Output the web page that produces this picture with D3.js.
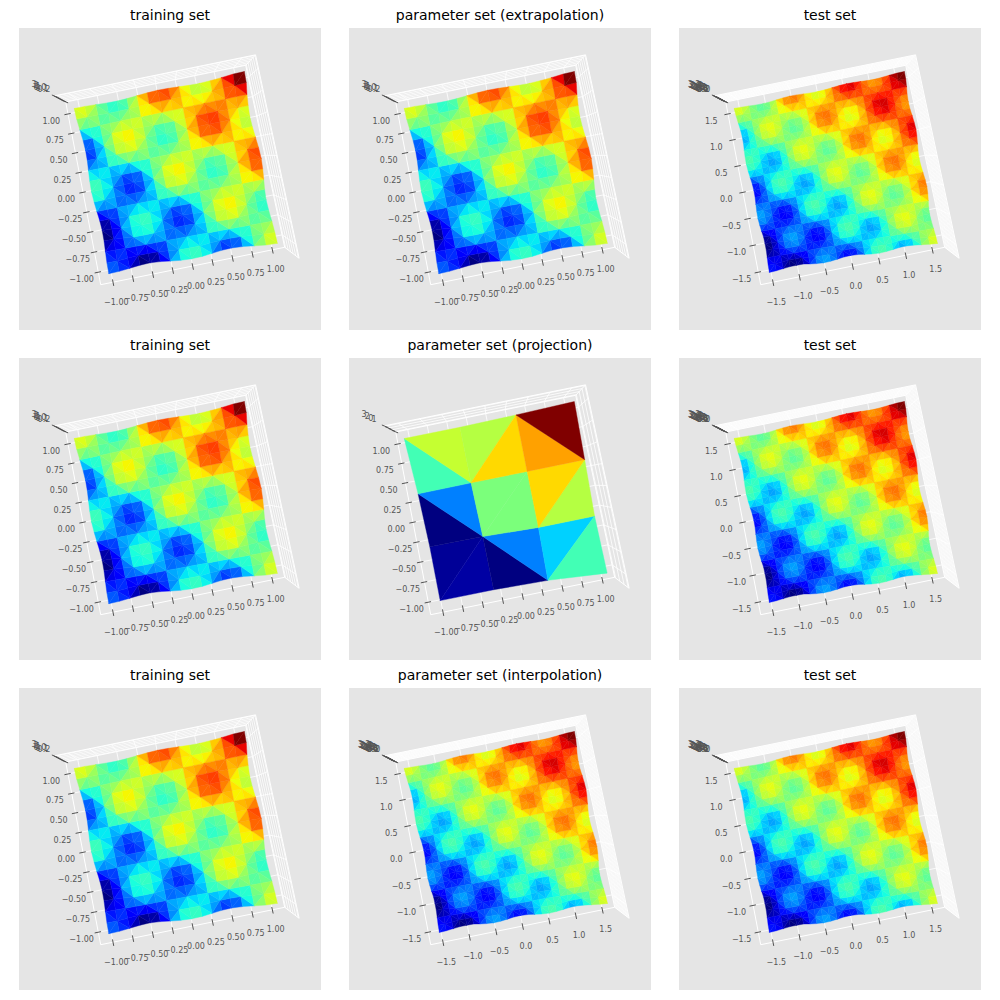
<!DOCTYPE html>
<html><head><meta charset="utf-8">
<script src="https://cdnjs.cloudflare.com/ajax/libs/d3/7.8.5/d3.min.js"></script>
<style>html,body{margin:0;padding:0;background:#fff}svg{display:block}</style>
</head><body><svg id="c" width="1000" height="1000"></svg>
<script>
// surface heights, percent of the colour range, rows from y max to y min
const trainingValues = [
[62,62,53,44,40,48,62,75,83,79,69,59,55,63,76,96,100],
[57,58,50,43,44,48,60,72,75,75,67,59,59,63,75,86,96],
[42,45,47,50,53,56,58,60,62,63,65,67,69,71,73,75,76],
[27,32,45,57,62,63,56,48,48,52,63,75,79,79,71,63,63],
[19,27,42,57,65,62,53,44,40,48,62,75,83,79,69,59,55],
[22,27,39,52,57,57,50,43,44,48,60,72,75,75,67,59,59],
[32,34,37,39,42,45,47,50,53,56,58,60,62,63,65,67,69],
[42,42,34,27,27,32,45,57,62,63,56,48,48,52,63,75,79],
[46,42,32,22,19,27,42,57,65,62,53,44,40,48,62,75,83],
[38,38,30,22,22,27,39,52,57,57,50,43,44,48,60,72,75],
[25,26,28,30,32,34,37,39,42,45,47,50,53,56,58,60,62],
[11,15,26,38,42,42,34,27,27,32,45,57,62,63,56,48,48],
[3,11,25,38,44,42,32,22,19,27,42,57,65,62,53,44,40],
[6,11,23,35,38,38,30,22,22,27,39,52,57,57,50,43,44],
[15,18,21,23,25,26,28,30,32,34,37,39,42,45,47,50,53],
[24,25,18,11,11,15,26,38,42,42,34,27,27,32,45,57,60],
[26,24,15,6,3,11,25,38,44,42,32,22,19,27,42,57,62]];
const testValues = [
[63,61,54,47,45,51,62,73,79,77,69,62,60,66,76,87,93,90,83,75,73,78,89,99,100],
[57,58,52,46,47,50,60,70,73,74,68,61,62,65,75,84,87,88,81,75,75,78,87,97,99],
[45,48,50,52,54,56,58,60,62,64,66,68,69,71,73,75,76,78,80,81,83,84,86,87,89],
[34,37,48,58,61,62,56,50,51,54,64,74,77,77,71,65,66,68,78,88,90,91,84,78,78],
[28,34,45,57,63,61,54,47,45,51,62,73,79,77,69,62,60,66,76,87,93,90,83,75,73],
[29,33,43,53,57,58,52,46,47,50,60,70,73,74,68,61,62,65,75,84,87,88,81,75,75],
[36,38,41,43,45,48,50,52,54,56,58,60,62,64,66,68,69,71,73,75,76,78,80,81,83],
[42,44,38,33,34,37,48,58,61,62,56,50,51,54,64,74,77,77,71,65,66,68,78,88,90],
[44,42,36,29,28,34,45,57,63,61,54,47,45,51,62,73,79,77,69,62,60,66,76,87,93],
[38,39,33,28,29,33,43,53,57,58,52,46,47,50,60,70,73,74,68,61,62,65,75,84,87],
[27,29,31,33,36,38,41,43,45,48,50,52,54,56,58,60,62,64,66,68,69,71,73,75,76],
[16,19,29,39,42,44,38,33,34,37,48,58,61,62,56,50,51,54,64,74,77,77,71,65,66],
[11,16,27,38,44,42,36,29,28,34,45,57,63,61,54,47,45,51,62,73,79,77,69,62,60],
[13,16,25,35,38,39,33,28,29,33,43,53,57,58,52,46,47,50,60,70,73,74,68,61,62],
[20,22,24,25,27,29,31,33,36,38,41,43,45,48,50,52,54,56,58,60,62,64,66,68,69],
[27,28,22,16,16,19,29,39,42,44,38,33,34,37,48,58,61,62,56,50,51,54,64,74,77],
[29,27,20,13,11,16,27,38,44,42,36,29,28,34,45,57,63,61,54,47,45,51,62,73,79],
[23,24,18,12,13,16,25,35,38,39,33,28,29,33,43,53,57,58,52,46,47,50,60,70,73],
[13,14,16,18,20,22,24,25,27,29,31,33,36,38,41,43,45,48,50,52,54,56,58,60,62],
[2,5,14,24,27,28,22,16,16,19,29,39,42,44,38,33,34,37,48,58,61,62,56,50,51],
[0,2,13,23,29,27,20,13,11,16,27,38,44,42,36,29,28,34,45,57,63,61,54,47,45],
[0,1,11,21,23,24,18,12,13,16,25,35,38,39,33,28,29,33,43,53,57,58,52,46,47],
[6,7,9,11,13,14,16,18,20,22,24,25,27,29,31,33,36,38,41,43,45,48,50,52,54],
[13,14,7,1,2,5,14,24,27,28,22,16,16,19,29,39,42,44,38,33,34,37,48,58,61],
[15,13,6,0,0,2,13,23,29,27,20,13,11,16,27,38,44,42,36,29,28,34,45,57,63]];
const coarseValues = [
[62,60,75,100],
[20,62,62,78],
[0,10,55,55],
[0,0,15,60]];
// triangles of the coarse mesh as [col,row] node index triples, with the colour read for each
const coarseFaces = [
[[0,0],[1,0],[1,1]],[[0,0],[1,1],[0,1]],[[1,0],[2,0],[1,1]],[[2,0],[2,1],[1,1]],
[[2,0],[3,0],[3,1]],[[2,0],[3,1],[2,1]],[[0,1],[1,1],[1,2]],[[0,1],[1,2],[0,2]],
[[1,1],[2,1],[1,2]],[[2,1],[2,2],[1,2]],[[2,1],[3,1],[2,2]],[[3,1],[3,2],[2,2]],
[[0,2],[1,2],[0,3]],[[1,2],[1,3],[0,3]],[[1,2],[2,2],[2,3]],[[1,2],[2,3],[1,3]],
[[2,2],[3,2],[2,3]],[[3,2],[3,3],[2,3]]];
const coarseFaceValues = [59,43,57,68,100,74,25,0,50,50,68,57,2,3,25,0,33,43];

const trainingTicks = [-1,-0.75,-0.5,-0.25,0,0.25,0.5,0.75,1];
const testTicks = [-1.5,-1,-0.5,0,0.5,1,1.5];
const trainingZTicks = [0,20,40,60,80,100];
const trainingZLabels = ["0.2","0.1","0.0","1","2","3"];
const coarseZTicks = [0,33,67,100];
const coarseZLabels = ["1","0","2","3"];
const testZTicks = [0,8,15,23,31,38,46,54,62,69,77,85,92,100];
const testZLabels = ["0.0","0.2","0.5","0.8","1.0","1.2","1.5","1.8","2.0","2.2","2.5","2.8","3.0","3.2"];
const titles = ["training set","parameter set (extrapolation)","test set",
  "training set","parameter set (projection)","test set",
  "training set","parameter set (interpolation)","test set"];
const kinds = ["train","train","test","train","coarse","test","train","test","test"];

const jetR = d3.scaleLinear().domain([0,.35,.66,.89,1]).range([0,0,255,255,128]);
const jetG = d3.scaleLinear().domain([0,.125,.375,.64,.91,1]).range([0,0,255,255,0,0]);
const jetB = d3.scaleLinear().domain([0,.11,.34,.65,1]).range([128,255,255,0,0]);
const jet = t => `rgb(${Math.round(jetR(t))},${Math.round(jetG(t))},${Math.round(jetB(t))})`;

// floor quadrilateral of the 3D box inside one panel, and the point its verticals converge to
const quad = [[81.7,256.7],[265.7,219.3],[226.7,37.3],[46.7,74]];
const vanish = [143.3,126], zGrowth = 0.118;
const hom = (()=>{
  const [[x0,y0],[x1,y1],[x2,y2],[x3,y3]] = quad;
  const dx1=x1-x2,dx2=x3-x2,sx=x0-x1+x2-x3,dy1=y1-y2,dy2=y3-y2,sy=y0-y1+y2-y3;
  const den=dx1*dy2-dx2*dy1, g=(sx*dy2-dx2*sy)/den, h=(dx1*sy-sx*dy1)/den;
  return {a:x1-x0+g*x1,b:x3-x0+h*x3,c:x0,d:y1-y0+g*y1,e:y3-y0+h*y3,f:y0,g,h};
})();
function project(u,v,w){
  const m=hom.g*u+hom.h*v+1, X=(hom.a*u+hom.b*v+hom.c)/m, Y=(hom.d*u+hom.e*v+hom.f)/m, k=1+zGrowth*w;
  return [vanish[0]+(X-vanish[0])*k, vanish[1]+(Y-vanish[1])*k];
}
const svg = d3.select("#c");
const fmt = (v,dec)=> (v<0?"\u2212":"")+Math.abs(v).toFixed(dec);
const panelSize=302, font="'DejaVu Sans', sans-serif";

titles.forEach((title,idx)=>{
  const col=idx%3,row=Math.floor(idx/3), kind=kinds[idx];
  const g=svg.append("g").attr("transform",`translate(${19+col*330},${28+row*330})`);
  g.append("rect").attr("width",panelSize).attr("height",panelSize).attr("fill","#e5e5e5");
  svg.append("text").attr("x",19+col*330+panelSize/2).attr("y",20+row*330).attr("text-anchor","middle")
    .attr("font-family",font).attr("font-size",14).attr("fill","#000").text(title);
  const isTest=kind==="test", lim=isTest?1.5:1;
  const ticks=isTest?testTicks:trainingTicks, dec=isTest?1:2;
  const zTicks=kind==="coarse"?coarseZTicks:isTest?testZTicks:trainingZTicks;
  const zLabels=kind==="coarse"?coarseZLabels:isTest?testZLabels:trainingZLabels;
  const xs=d3.scaleLinear().domain([-lim,lim]).range([.067,.933]);
  const ys=d3.scaleLinear().domain([-lim,lim]).range([.067,.933]);
  const zs=d3.scaleLinear().domain([0,100]).range([.067,.933]);
  const line=(a,b,color,w)=>g.append("line").attr("x1",a[0]).attr("y1",a[1]).attr("x2",b[0]).attr("y2",b[1]).attr("stroke",color).attr("stroke-width",w);
  ticks.forEach(t=>{
    line(project(xs(t),0,0),project(xs(t),1,0),"#fff",.8);
    line(project(0,ys(t),0),project(1,ys(t),0),"#fff",.8);
    line(project(xs(t),1,0),project(xs(t),1,1),"#fff",.8);
    line(project(1,ys(t),0),project(1,ys(t),1),"#fff",.8);
  });
  zTicks.forEach(z=>{
    line(project(0,1,zs(z)),project(1,1,zs(z)),"#fff",.8);
    line(project(1,1,zs(z)),project(1,0,zs(z)),"#fff",.8);
  });
  [[[0,0,0],[1,0,0]],[[0,0,0],[0,1,0]],[[0,1,0],[1,1,0]],[[1,1,0],[1,0,0]],[[0,1,1],[1,1,1]],[[1,1,1],[1,0,1]],[[1,1,0],[1,1,1]],[[1,0,0],[1,0,1]],[[0,1,0],[0,1,1]]]
    .forEach(([a,b])=>line(project(...a),project(...b),"#fff",1));
  const values=isTest?testValues:kind==="train"?trainingValues:coarseValues;
  const n=values.length, X=d3.scaleLinear().domain([0,n-1]).range([-lim,lim]), Y=d3.scaleLinear().domain([0,n-1]).range([lim,-lim]);
  const pt=(i,j)=>project(xs(X(i)),ys(Y(j)),zs(values[j][i]));
  let faces=[];
  if(kind==="coarse"){
    coarseFaces.forEach((f,k)=>faces.push({n:f,v:coarseFaceValues[k]}));
  } else {
    for(let j=0;j<n-1;j++)for(let i=0;i<n-1;i++){
      const a=[i,j],b=[i+1,j],c=[i+1,j+1],d=[i,j+1];
      const tri=(i+j)%2===0?[[a,b,c],[a,c,d]]:[[a,b,d],[b,c,d]];
      tri.forEach(f=>faces.push({n:f,v:d3.mean(f,p=>values[p[1]][p[0]])}));
    }
  }
  const ext=d3.extent(faces,f=>f.v), cs=d3.scaleLinear().domain(ext).range([0,1]);
  faces.sort((a,b)=>d3.mean(a.n,p=>values[p[1]][p[0]])-d3.mean(b.n,p=>values[p[1]][p[0]]));
  g.append("g").selectAll("path").data(faces).join("path")
    .attr("d",f=>"M"+f.n.map(p=>pt(p[0],p[1]).map(q=>q.toFixed(2)).join(",")).join("L")+"Z")
    .attr("fill",f=>jet(cs(f.v))).attr("stroke",f=>jet(cs(f.v))).attr("stroke-width",.4).attr("stroke-linejoin","round");
  const tickColor="#555555";
  ticks.forEach(t=>{
    const u=xs(t), v=ys(t);
    line(project(u,-.02,0),project(u,.015,0),tickColor,1);
    line(project(-.02,v,0),project(.015,v,0),tickColor,1);
    const px=project(u,0,0), py=project(0,v,0);
    g.append("text").attr("x",px[0]+3.3).attr("y",px[1]+19.7).attr("dy","0.36em").attr("text-anchor","middle")
      .attr("font-family",font).attr("font-size",8).attr("fill",tickColor).text(fmt(t,dec));
    g.append("text").attr("x",py[0]-16.7).attr("y",py[1]+7).attr("dy","0.36em").attr("text-anchor","middle")
      .attr("font-family",font).attr("font-size",8).attr("fill",tickColor).text(fmt(t,dec));
  });
  zTicks.forEach((z,k)=>{
    const p=project(0,1,zs(z));
    line([p[0]-3.2,p[1]-1.3],[p[0]+3.2,p[1]+1.3],tickColor,1);
    g.append("text").attr("x",p[0]-21).attr("y",p[1]-12).attr("dy","0.36em").attr("text-anchor","middle")
      .attr("font-family",font).attr("font-size",8).attr("fill",tickColor).text(zLabels[k]);
  });
});
</script></body></html>
